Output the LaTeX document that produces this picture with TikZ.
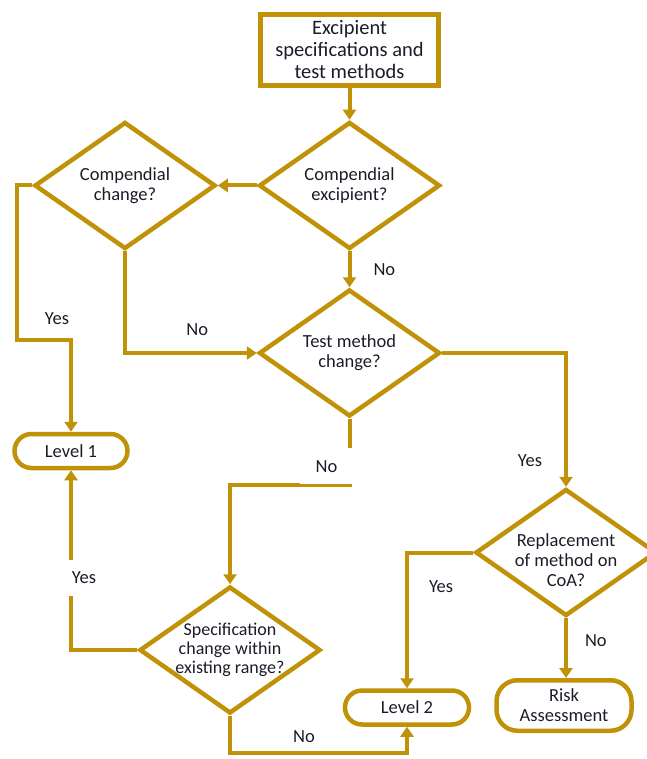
\documentclass[tikz,border=0pt]{standalone}
\usepackage{fontspec}
\setmainfont{Carlito}
\usetikzlibrary{arrows.meta,positioning,shapes.geometric}
\definecolor{gold}{RGB}{191,146,8}
\definecolor{ink}{RGB}{28,28,40}

\begin{document}
\begin{tikzpicture}[
    x=1pt, y=-1pt,
    font=\fontsize{18.5}{20}\selectfont, text=ink,
    box/.style={draw=gold, line width=5pt, minimum width=178pt, minimum height=71pt, align=center, inner sep=0pt, font=\fontsize{20.5}{22}\selectfont},
    dia/.style={diamond, draw=gold, line width=4.5pt, minimum width=181pt, minimum height=127pt, inner sep=0pt},
    term/.style={draw=gold, line width=4.5pt, rounded corners=17pt, minimum width=124pt, minimum height=34pt, align=center, inner sep=0pt},
    lbl/.style={inner sep=0pt},
    gap/.style={lbl, fill=white, inner xsep=16pt, inner ysep=12pt},
    arr/.style={-{Triangle[length=10pt,width=13pt]}, draw=gold, line width=4pt},
]
\useasboundingbox (0,0) rectangle (646,759);

\node[box] (excip) at (349.5,50) {Excipient\\specifications and\\test methods};
\node[dia, label={[align=center]center:Compendial\\excipient?}] (comp) at (349.5,185.5) {};
\node[dia, left=39pt of comp, label={[align=center]center:Compendial\\change?}] (cchg) {};
\node[dia, below=36pt of comp, label={[align=center]center:Test method\\change?}] (tmc) {};
\node[dia, label={[align=center, yshift=-8pt]center:Replacement\\of method on\\CoA?}] (repl) at (566,552.5) {};
\node[dia, label={[align=center, font=\fontsize{18}{19}\selectfont]center:Specification\\change within\\existing range?}] (range) at (230,650) {};
\node[term, minimum width=113pt] (lvlA) at (71,451) {Level 1};
\node[term] (lvlB) at (407,707.5) {Level 2};
\node[term, rounded corners=21pt, minimum width=135pt, minimum height=50.5pt] (risk) at (564,705.5) {Risk\\Assessment};

\coordinate (yesturn) at (17,340);
\coordinate (noturn) at (tmc.south |- 0,485);
\coordinate (lowturn) at (range.south |- 0,753);

\draw[arr] (excip) -- (comp);
\draw[arr] (comp.west) -- (cchg.east);
\draw[arr] (comp.south) -- node[lbl, right=22pt] {No} (tmc.north);
\draw[arr] (cchg.west) -| (yesturn) -| node[lbl, pos=0.37, above=13pt] {Yes} (lvlA.north);
\draw[arr] (cchg.south) |- node[lbl, pos=0.774, above=15pt] {No} (tmc.west);
\draw[arr] (tmc.east) -| node[lbl, pos=0.903, left=22pt] {Yes} (repl.north);
\draw[arr] (tmc.south) -- node[gap, pos=0.72, xshift=-23pt] {No} (noturn) -| (range.north);
\draw[arr] (range.west) -| node[gap, inner xsep=5pt, pos=0.7, xshift=13pt] {Yes} (lvlA.south);
\draw[arr] (range.south) -- (lowturn) -| node[lbl, pos=0.209, above=8pt] {No} (lvlB.south);
\draw[arr] (repl.west) -| node[lbl, pos=0.625, right=20pt] {Yes} (lvlB.north);
\draw[arr] (repl.south) -- node[lbl, pos=0.37, right=17pt] {No} (repl.south |- risk.north);
\end{tikzpicture}
\end{document}
